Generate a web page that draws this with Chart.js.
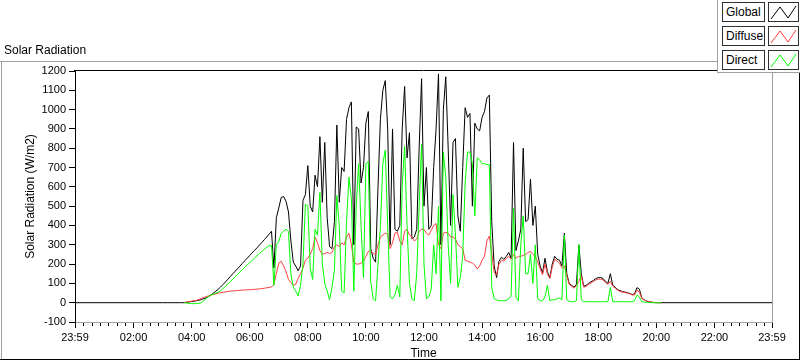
<!DOCTYPE html>
<html>
<head>
<meta charset="utf-8">
<script src="https://cdn.jsdelivr.net/npm/chart.js@4.4.0/dist/chart.umd.min.js"></script>
<style>
html,body{margin:0;padding:0;background:#fff;}
#wrap{position:relative;width:800px;height:361px;overflow:hidden;font-family:'Liberation Sans',Arial,sans-serif;color:#000;}
#c{position:absolute;left:0;top:0;}
#hdr{position:absolute;left:4px;top:43px;font-size:12px;line-height:14px;white-space:nowrap;}
#legend{position:absolute;left:717px;top:0;width:83px;height:73px;background:#fff;border-left:1px solid #a0a0a0;border-bottom:1px solid #a0a0a0;box-sizing:border-box;}
.lbl{position:absolute;left:4px;width:43px;height:20px;border:1px solid #303030;box-sizing:border-box;font-size:12px;line-height:18px;padding-left:3px;background:#fff;white-space:nowrap;}
.sw{position:absolute;left:50px;width:31px;height:20px;border:1px solid #303030;box-sizing:border-box;background:#fff;}
.sw svg{position:absolute;left:0;top:0;}
</style>
</head>
<body>
<div id="wrap">
<canvas id="c" width="800" height="361"></canvas>
<div id="hdr">Solar Radiation</div>
<div id="legend"></div>
</div>
<script>
// ---- data (W/m2), sampled every 5 minutes starting 03:00 ----
const sampleStartMin = 180;
const sampleStepMin = 5;
const seriesNames = ['Global', 'Diffuse', 'Direct'];
const seriesColors = ['#000000', '#ff4040', '#00ff00'];

const globalWm2 = [
  0,0,0,0,0,0,0,0,0,0,2,4,
  6,8,10,13,17,21,25,32,40,50,60,70,
  82,95,108,122,136,150,163,177,190,204,218,231,
  245,258,271,284,298,312,326,340,355,370,180,440,
  490,545,550,525,470,320,210,190,165,190,530,560,
  710,500,470,660,600,860,520,830,440,290,280,420,
  920,520,700,680,950,1010,1040,300,910,900,620,700,
  930,990,280,230,210,600,950,1100,1150,900,300,900,
  380,370,400,900,1120,750,880,330,340,380,800,1160,
  500,700,380,400,700,900,1185,300,1000,1170,800,400,
  830,850,450,370,700,1010,960,980,500,930,900,890,
  960,990,1060,1075,420,190,130,215,235,225,240,260,
  230,830,270,320,380,800,420,430,640,400,500,250,
  190,155,230,160,130,200,240,225,220,190,360,150,
  100,90,80,95,300,150,85,90,100,108,115,125,
  130,130,125,110,100,150,90,80,68,62,58,55,
  52,48,42,45,78,70,25,15,8,5,3,1,
  0,0,0
];
const diffuseWm2 = [
  null,null,null,null,null,null,null,null,null,2,4,6,
  8,10,12,17,22,27,31,36,40,43,46,49,
  52,54,56,58,60,61,62,63,64,65,66,67,
  67,68,69,70,72,73,75,77,79,82,95,150,
  205,215,190,160,120,105,90,95,125,150,180,220,
  230,250,280,340,310,270,250,255,260,255,260,290,
  300,290,310,300,340,360,300,210,200,200,205,215,
  240,265,270,255,250,300,340,350,360,355,280,310,
  360,365,320,300,370,380,350,340,320,330,370,380,
  380,360,350,375,400,410,300,280,360,365,360,340,
  340,330,300,290,280,220,215,210,205,195,175,190,
  220,240,320,345,260,155,145,200,220,215,230,240,
  225,250,230,240,240,245,250,260,265,250,240,210,
  175,145,200,150,125,185,225,215,205,180,190,140,
  95,85,75,90,110,140,80,85,95,102,110,118,
  122,122,118,105,95,110,85,76,65,58,55,52,
  50,46,40,40,65,55,22,14,8,5,3,1,
  0,0,0
];
const directWm2 = [
  null,null,null,null,null,null,null,null,null,0,-2,-4,
  -5,-5,-4,-3,0,10,22,32,40,45,50,55,
  62,74,86,98,110,122,135,147,160,172,184,196,
  207,219,231,243,255,266,276,286,295,296,90,300,
  315,360,370,380,370,150,80,60,35,90,200,510,
  500,180,120,380,350,570,200,100,60,15,80,170,
  555,400,60,50,420,650,540,60,500,720,400,130,
  720,730,110,20,10,200,400,720,790,400,30,20,
  40,90,30,600,810,400,100,20,10,150,500,820,
  200,20,30,70,300,150,500,10,780,650,300,100,
  560,350,80,130,240,620,780,780,720,450,750,740,
  720,720,715,715,80,20,15,10,10,10,12,20,
  35,490,30,10,300,450,150,150,250,100,300,20,
  10,10,30,90,10,15,15,20,25,15,350,15,
  8,5,5,10,300,15,5,5,5,5,5,5,
  5,5,5,5,5,80,5,5,5,5,5,5,
  5,5,5,10,40,30,5,3,2,1,0,0,
  0,0,0
];
// Global is zero through the night, at both ends of the axis
const globalNight = [[-1, 0], [1439, 0]];

// axis ticks (minutes since midnight)
const xTickValues = [-1,120,240,360,480,600,720,840,960,1080,1200,1320,1439];
const xTickLabels = ['23:59','02:00','04:00','06:00','08:00','10:00','12:00','14:00','16:00','18:00','20:00','22:00','23:59'];
const yTickValues = [-100,0,100,200,300,400,500,600,700,800,900,1000,1100,1200];

// ---- build points ----
function toPoints(arr){
  return arr.map((v,i)=>({x: sampleStartMin + i*sampleStepMin, y: v}));
}
const globalPts = [{x:globalNight[0][0], y:globalNight[0][1]}]
  .concat(toPoints(globalWm2))
  .concat([{x:globalNight[1][0], y:globalNight[1][1]}]);
const diffusePts = toPoints(diffuseWm2);
const directPts = toPoints(directWm2);

const FONT = "'Liberation Sans', Arial, sans-serif";

const framePlugin = {
  id: 'frame',
  beforeDraw(chart){
    const ctx = chart.ctx;
    ctx.save();
    ctx.fillStyle = '#ffffff';
    ctx.fillRect(0,0,chart.width,chart.height);
    ctx.restore();
  },
  afterDraw(chart){
    const {ctx, chartArea:a} = chart;
    const xs = chart.scales.x;
    ctx.save();
    ctx.lineWidth = 1;
    // minor ticks on x axis: 7 intervals between majors
    ctx.strokeStyle = '#000';
    ctx.beginPath();
    for (let i=0;i<xTickValues.length-1;i++){
      const v0 = xTickValues[i], v1 = xTickValues[i+1];
      for (let k=1;k<7;k++){
        const px = Math.round(xs.getPixelForValue(v0 + (v1-v0)*k/7)) + 0.5;
        ctx.moveTo(px, a.bottom + 1);
        ctx.lineTo(px, a.bottom + 4);
      }
    }
    ctx.stroke();
    // plot frame: top black, right grey
    ctx.strokeStyle = '#000';
    ctx.beginPath();
    ctx.moveTo(a.left - 1, a.top - 0.5);
    ctx.lineTo(a.right + 1, a.top - 0.5);
    ctx.stroke();
    ctx.strokeStyle = '#a0a0a0';
    ctx.beginPath();
    ctx.moveTo(a.right + 0.5, a.top);
    ctx.lineTo(a.right + 0.5, a.bottom + 1);
    ctx.stroke();
    // outer frame
    ctx.strokeStyle = '#a0a0a0';
    ctx.beginPath();
    ctx.moveTo(0, 61.5); ctx.lineTo(800, 61.5);
    ctx.moveTo(1.5, 61); ctx.lineTo(1.5, 359);
    ctx.stroke();
    ctx.strokeStyle = '#000';
    ctx.beginPath();
    ctx.moveTo(0, 359.5); ctx.lineTo(800, 359.5);
    ctx.moveTo(799.5, 61); ctx.lineTo(799.5, 360);
    ctx.stroke();
    ctx.restore();
  }
};

new Chart(document.getElementById('c'), {
  type: 'line',
  data: {
    datasets: [
      {label: seriesNames[2], data: directPts, borderColor: seriesColors[2], order: 1},
      {label: seriesNames[1], data: diffusePts, borderColor: seriesColors[1], order: 2},
      {label: seriesNames[0], data: globalPts, borderColor: seriesColors[0], order: 3}
    ]
  },
  options: {
    responsive: false,
    animation: false,
    devicePixelRatio: 1,
    layout: {padding: {left: 0, right: 28, top: 71, bottom: 0}},
    elements: {
      point: {radius: 0},
      line: {borderWidth: 1, tension: 0, fill: false}
    },
    plugins: {legend: {display: false}, tooltip: {enabled: false}},
    scales: {
      x: {
        type: 'linear', min: -1, max: 1439,
        afterBuildTicks: s => { s.ticks = xTickValues.map(v => ({value: v})); },
        afterFit: s => { s.height = 39; },
        ticks: {
          autoSkip: false, maxRotation: 0, padding: 3, color: '#000',
          font: {family: FONT, size: 11},
          callback: (v) => { const i = xTickValues.indexOf(v); return i >= 0 ? xTickLabels[i] : ''; }
        },
        grid: {drawOnChartArea: false, drawTicks: true, tickLength: 6, tickColor: '#000', tickWidth: 1},
        border: {color: '#a0a0a0', width: 1},
        title: {display: true, text: 'Time', color: '#000', font: {family: FONT, size: 12}, padding: {top: 0, bottom: 0}}
      },
      y: {
        min: -100, max: 1200,
        afterBuildTicks: s => { s.ticks = yTickValues.map(v => ({value: v})); },
        afterFit: s => { s.width = 75; },
        ticks: {padding: 3, color: '#000', font: {family: FONT, size: 11}, callback: (v) => String(v)},
        grid: {drawOnChartArea: false, drawTicks: true, tickLength: 6, tickColor: '#000', tickWidth: 1},
        border: {color: '#000', width: 1},
        title: {display: true, text: 'Solar Radiation (W/m2)', color: '#000', font: {family: FONT, size: 12}, padding: {top: 23, bottom: 0}}
      }
    }
  },
  plugins: [framePlugin]
});

// ---- legend (HTML) ----
const legend = document.getElementById('legend');
const rowTops = [2, 26, 50];
seriesNames.forEach((name, i) => {
  const l = document.createElement('div');
  l.className = 'lbl';
  l.style.top = rowTops[i] + 'px';
  l.textContent = name;
  legend.appendChild(l);
  const s = document.createElement('div');
  s.className = 'sw';
  s.style.top = rowTops[i] + 'px';
  s.innerHTML = '<svg width="29" height="18"><polyline points="2,16 11,4 19,15 27,3" fill="none" stroke="' + seriesColors[i] + '" stroke-width="1"/></svg>';
  legend.appendChild(s);
});
</script>
</body>
</html>
